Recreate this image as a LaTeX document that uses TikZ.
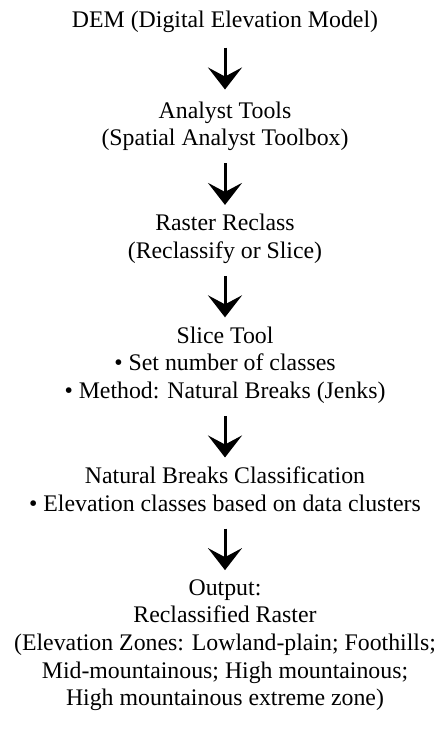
\documentclass[tikz,border=0pt]{standalone}
\usepackage{fontspec}
\setmainfont{Liberation Serif}
\usetikzlibrary{positioning,arrows.meta}

\begin{document}
\begin{tikzpicture}
		\tikzset{stage/.style={inner sep=0pt,
							   align=center,
							   font=\fontsize{23.8}{27.7}\selectfont,
							   execute at begin node=\strut,
							   execute at end node=\strut},
				 flow/.style={-{Stealth[length=22pt,width=34pt,inset=9pt]},
							  line width=3pt,
							  shorten <=9pt,
							  shorten >=9pt}}
		% Nodes
		\node[stage] (dem) {DEM (Digital Elevation Model)};
		\node[stage, below=65pt of dem] (tools) {Analyst Tools\\(Spatial Analyst Toolbox)};
		\node[stage, below=59.5pt of tools] (reclass) {Raster Reclass\\(Reclassify or Slice)};
		\node[stage, below=59.5pt of reclass] (slice) {Slice Tool\\\textbullet{} Set number of classes\\\textbullet{} Method: Natural Breaks (Jenks)};
		\node[stage, below=59.5pt of slice] (jenks) {Natural Breaks Classification\\\textbullet{} Elevation classes based on data clusters};
		\node[stage, below=59.5pt of jenks] (output) {Output:\\Reclassified Raster\\(Elevation Zones: Lowland-plain; Foothills;\\Mid-mountainous; High mountainous;\\High mountainous extreme zone)};

		\useasboundingbox ([xshift=-225pt,yshift=28pt]dem.base) rectangle ++(445pt,-735pt);

		% Arrows
		\draw[flow, shorten <=11pt, shorten >=12pt] (dem) -- (tools);
		\draw[flow] (tools) -- (reclass);
		\draw[flow] (reclass) -- (slice);
		\draw[flow] (slice) -- (jenks);
		\draw[flow] (jenks) -- (output);
\end{tikzpicture}
\end{document}
